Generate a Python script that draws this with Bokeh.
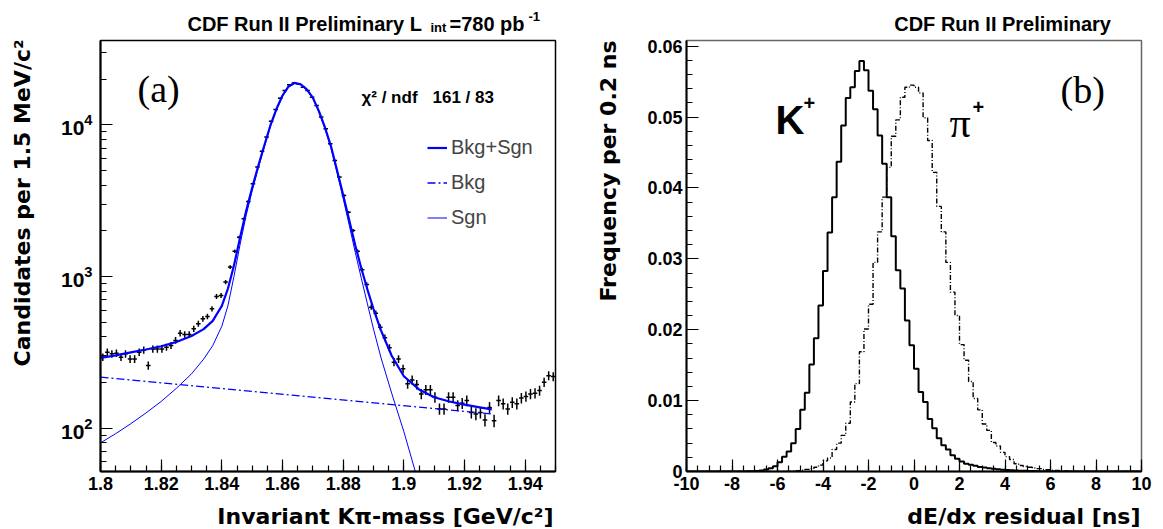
import numpy as np
from math import pi
from bokeh.plotting import figure
from bokeh.models import FixedTicker, Label, Legend, LegendItem, Range1d
from bokeh.layouts import row, column
from bokeh.embed import file_html
from bokeh.resources import INLINE

# ---------------- panel (a): invariant mass -----------------
mass_lo, mass_bin = 1.8, 0.0015
counts = [294, 317, 309, 312, 294, 309, 286, 286, 317, 328,
          259, 333, 333, 333, 342, 351, 379, 423, 415, 415,
          452, 488, 526, 545, 612, 738, 750, 918, 1153, 1469,
          1815, 2398, 3124, 4086, 5262, 6702, 8295, 10570, 12620, 14990,
          16830, 18350, 18830, 18630, 17700, 16830, 15210, 13400, 11240, 9410,
          7500, 5820, 4520, 3420, 2655, 2010, 1469, 1107, 886, 628,
          573, 463, 394, 339, 272, 286, 246, 196, 208, 194,
          168, 179, 179, 160, 134, 134, 160, 160, 141, 146,
          152, 127, 124, 127, 113, 137, 112, 152, 145, 134,
          148, 145, 158, 162, 168, 170, 177, 201, 222, 219]

fit_x = [1.800, 1.805, 1.810, 1.815, 1.820, 1.825, 1.830, 1.834, 1.837, 1.840,
         1.842, 1.844, 1.846, 1.848, 1.850, 1.852, 1.854, 1.856, 1.858, 1.860,
         1.862, 1.864, 1.866, 1.868, 1.870, 1.872, 1.874, 1.876, 1.878, 1.880,
         1.882, 1.884, 1.886, 1.888, 1.890, 1.8925, 1.896, 1.900, 1.905, 1.910,
         1.915, 1.920, 1.925, 1.929]
fit_total = [290, 302, 316, 330, 347, 370, 405, 450, 510, 640,
             830, 1180, 1800, 2700, 3850, 5350, 7300, 9900, 12700, 15600,
             17900, 18900, 18500, 17100, 15100, 12300, 9600, 7200, 5000, 3450,
             2350, 1600, 1130, 820, 610, 440, 300, 220, 180, 160,
             150, 143, 137, 133]

sgn_x = [1.800, 1.805, 1.810, 1.815, 1.820, 1.825, 1.830, 1.834, 1.837, 1.840,
         1.842, 1.844, 1.846, 1.848, 1.850, 1.852, 1.854, 1.856, 1.858, 1.860,
         1.862, 1.864, 1.866, 1.868, 1.870, 1.872, 1.874, 1.876, 1.878, 1.880,
         1.882, 1.884, 1.886, 1.888, 1.890, 1.8925, 1.896, 1.900, 1.904]
sgn_y = [80, 92, 107, 126, 150, 183, 228, 285, 350, 470,
         640, 1000, 1620, 2520, 3670, 5170, 7120, 9720, 12520, 15420,
         17720, 18720, 18320, 16920, 14920, 12120, 9420, 7020, 4820, 3280,
         2180, 1440, 970, 660, 450, 290, 170, 95, 50]

bkg_x = [1.800, 1.929]
bkg_y = [217, 124]

mass_ticks = [1.8, 1.82, 1.84, 1.86, 1.88, 1.9, 1.92, 1.94]
mass_tick_labels = ["1.8", "1.82", "1.84", "1.86", "1.88", "1.9", "1.92", "1.94"]
cand_ticks = [100, 1000, 10000]

# ---------------- panel (b): dE/dx residual -----------------
res_lo, res_bin = -10.0, 0.2
kaon = [0, 0, 0, 0, 0, 0, 0, 0, 0, 0,
        0, 0, 0.00001, 0.00002, 0.00003, 0.00008, 0.00015, 0.00028, 0.00047, 0.00075,
        0.00132, 0.00207, 0.00282, 0.0040, 0.0060, 0.0087, 0.0111, 0.0151, 0.0188, 0.0234,
        0.0283, 0.0337, 0.0387, 0.0437, 0.0488, 0.0527, 0.0542, 0.0565, 0.0579, 0.0566,
        0.0537, 0.0511, 0.0474, 0.0434, 0.0387, 0.0332, 0.0284, 0.0258, 0.0213, 0.0178,
        0.0145, 0.0112, 0.0098, 0.0074, 0.0061, 0.0047, 0.0037, 0.0031, 0.0023, 0.0018,
        0.0014, 0.0011, 0.00095, 0.0008, 0.00065, 0.00055, 0.00045, 0.00038, 0.0003, 0.00025,
        0.0002, 0.00017, 0.00014, 0.00012, 0.0001, 0.00008, 0.00006, 0.00005, 0.00003, 0.00002,
        0, 0, 0, 0, 0, 0, 0, 0, 0, 0,
        0, 0, 0, 0, 0, 0, 0, 0, 0, 0]
pion = [0, 0, 0, 0, 0, 0, 0, 0, 0, 0,
        0, 0, 0, 0, 0, 0, 0, 0, 0, 0,
        0.00002, 0.00003, 0.00005, 0.00008, 0.00012, 0.0002, 0.0003, 0.0004, 0.0006, 0.0009,
        0.0015, 0.0019, 0.0031, 0.0040, 0.0051, 0.0068, 0.0098, 0.0124, 0.0169, 0.0201,
        0.0236, 0.0295, 0.0338, 0.0387, 0.0429, 0.0473, 0.0496, 0.0528, 0.0542, 0.0545,
        0.0542, 0.0534, 0.0499, 0.0467, 0.0422, 0.0374, 0.0338, 0.0295, 0.0253, 0.0220,
        0.0179, 0.0157, 0.0127, 0.0103, 0.0087, 0.0067, 0.0058, 0.0041, 0.0036, 0.0027,
        0.0021, 0.0017, 0.0011, 0.00085, 0.0007, 0.0006, 0.0005, 0.0004, 0.0003, 0.00025,
        0.0002, 0.00015, 0.0001, 0.00006, 0.00003, 0, 0, 0, 0, 0,
        0, 0, 0, 0, 0, 0, 0, 0, 0, 0]

res_ticks = [-10, -8, -6, -4, -2, 0, 2, 4, 6, 8, 10]
freq_ticks = [0, 0.01, 0.02, 0.03, 0.04, 0.05, 0.06]
freq_tick_labels = ["0", "0.01", "0.02", "0.03", "0.04", "0.05", "0.06"]

SANS = "Liberation Sans"
WIDE = "DejaVu Sans"
SERIF = "Liberation Serif"
BLUE = "#0000ff"

TOP_H = 35            # height of the title strip (page y 0..35)
PANEL_H = 464         # panels: page y 35..499, frame 40..471


def style_axes(p):
    p.xgrid.visible = False
    p.ygrid.visible = False
    for ax in (p.xaxis[0], p.yaxis[0]):
        ax.major_tick_in = 12
        ax.major_tick_out = 0
        ax.minor_tick_in = 6
        ax.minor_tick_out = 0
        ax.axis_line_width = 2
        ax.axis_line_color = "black"
        ax.major_tick_line_color = "black"
        ax.minor_tick_line_color = "black"
        ax.major_tick_line_width = 1.2
        ax.minor_tick_line_width = 1.2
        ax.major_label_text_font = SANS
        ax.major_label_text_font_style = "bold"
        ax.major_label_text_font_size = "18px"
        ax.major_label_text_color = "black"
    p.xaxis[0].major_label_standoff = 5


def text_fig(w, h):
    f = figure(width=w, height=h, title=None, x_range=Range1d(0, 1), y_range=Range1d(0, 1),
               x_axis_location=None, y_axis_location=None, output_backend="svg",
               toolbar_location=None, min_border=0)
    f.outline_line_color = None
    f.grid.visible = False
    return f


def add_text(p, ox, obottom, X, Y, text, size, font=SANS, style="bold",
             align="left", baseline="alphabetic", angle=0.0):
    # (ox, obottom): page position of the bottom-left corner of p's frame
    p.add_layout(Label(x=X - ox, y=obottom - Y,
                       x_units="screen", y_units="screen", text=text,
                       text_font=font, text_font_size=size, text_font_style=style,
                       text_align=align, text_baseline=baseline, angle=angle,
                       text_color="black"))


# ---------------- figure (a) -----------------
p1 = figure(width=540, height=PANEL_H, title=None,
            x_range=Range1d(1.8, 1.95), y_range=Range1d(51.8, 35950),
            y_axis_type="log", output_backend="svg", toolbar_location=None,
            min_border_left=52, min_border_right=33, min_border_top=5,
            min_border_bottom=28)
p1.outline_line_color = "black"
p1.outline_line_width = 1.5
p1.outline_line_alpha = 1
style_axes(p1)
p1.xaxis.ticker = FixedTicker(ticks=mass_ticks,
                              minor_ticks=list(np.round(np.arange(1.8, 1.9501, 0.005), 4)))
p1.xaxis.major_label_overrides = dict(zip(mass_ticks, mass_tick_labels))
p1.yaxis.ticker = FixedTicker(ticks=cand_ticks,
                              minor_ticks=[m * 10 ** e for e in (1, 2, 3, 4) for m in range(2, 10)])
p1.yaxis.major_label_standoff = 8
p1.yaxis.major_label_text_font_size = "21px"

centers = mass_lo + mass_bin * (np.arange(len(counts)) + 0.5)
cnt = np.array(counts, dtype=float)
err = np.sqrt(cnt)
p1.segment(x0=centers - mass_bin / 2, x1=centers + mass_bin / 2, y0=cnt, y1=cnt,
           line_color="black", line_width=1.5)
p1.segment(x0=centers, x1=centers, y0=cnt - err, y1=cnt + err,
           line_color="black", line_width=1.5)

r_bkg = p1.line(bkg_x, bkg_y, line_color=BLUE, line_width=1.3, line_dash="8 3 2 3")
r_sgn = p1.line(sgn_x, sgn_y, line_color=BLUE, line_width=1.0)
r_tot = p1.line(fit_x, fit_total, line_color=BLUE, line_width=2.2)

legend = Legend(items=[LegendItem(label="Bkg+Sgn", renderers=[r_tot]),
                       LegendItem(label="Bkg", renderers=[r_bkg]),
                       LegendItem(label="Sgn", renderers=[r_sgn])],
                location=(327, 236), background_fill_alpha=0, border_line_alpha=0,
                label_text_font=SANS, label_text_font_size="20px",
                glyph_width=20, glyph_height=35, label_height=35, spacing=0,
                padding=0, margin=0, label_standoff=4)
p1.add_layout(legend)

F1 = (100, 471)
add_text(p1, *F1, 137, 88, "(a)", "38px", font=SERIF, style="normal")
add_text(p1, *F1, 361, 97, "χ² / ndf", "17px")
add_text(p1, *F1, 432, 97, "161 / 83", "17px")

# ---------------- figure (b) -----------------
p2 = figure(width=537, height=PANEL_H, title=None,
            x_range=Range1d(-10, 10), y_range=Range1d(0, 0.0608),
            output_backend="svg", toolbar_location=None,
            min_border_left=60, min_border_right=22, min_border_top=5,
            min_border_bottom=28)
p2.outline_line_color = "#666666"
p2.outline_line_width = 1.5
p2.outline_line_alpha = 1
style_axes(p2)
p2.xaxis.ticker = FixedTicker(ticks=res_ticks, minor_ticks=list(np.arange(-10, 10.01, 0.5)))
p2.xaxis.major_label_overrides = {t: str(t) for t in res_ticks}
p2.yaxis.ticker = FixedTicker(ticks=freq_ticks,
                              minor_ticks=list(np.round(np.arange(0, 0.0609, 0.002), 4)))
p2.yaxis.major_label_overrides = dict(zip(freq_ticks, freq_tick_labels))
p2.yaxis.major_label_standoff = 4

edges = res_lo + res_bin * np.arange(len(kaon) + 1)
p2.step(x=edges, y=kaon + [kaon[-1]], mode="after", line_color="black", line_width=2)
p2.step(x=edges, y=pion + [pion[-1]], mode="after", line_color="black",
        line_width=1.4, line_dash="5 2 1 2")

F2 = (686, 471)
add_text(p2, *F2, 1060, 89, "(b)", "38px", font=SERIF, style="normal")
add_text(p2, *F2, 775, 119, "K", "40px")
add_text(p2, *F2, 803, 102, "+", "20px")
add_text(p2, *F2, 949, 122, "π", "42px", font=SERIF, style="normal")
add_text(p2, *F2, 972, 106, "+", "20px")

# ---------------- text strips around the panels -----------------
top = text_fig(1163, TOP_H)       # page y 0..35
TOP = (0, TOP_H)
add_text(top, *TOP, 427, 23, "CDF Run II  Preliminary L", "20px", align="right")
add_text(top, *TOP, 430, 27, "int", "13px")
add_text(top, *TOP, 449, 23, "=780 pb", "20px")
add_text(top, *TOP, 528, 16, "-1", "13px")
add_text(top, *TOP, 1116, 23, "CDF Run II  Preliminary", "20px", align="right")

# the y-title strips sit in the same row as the panels, so their frames
# share the panels' frame (page y 40..471)
yt1 = text_fig(48, PANEL_H)       # page x 0..48
add_text(yt1, 0, 471, 22, 366, "Candidates per 1.5 MeV/c²", "22px", font=WIDE,
         align="left", baseline="middle", angle=pi / 2)
yt2 = text_fig(38, PANEL_H)       # page x 588..626
add_text(yt2, 588, 471, 608, 301, "Frequency per 0.2 ns", "22px", font=WIDE,
         align="left", baseline="middle", angle=pi / 2)

bottom = text_fig(1163, 30)       # page y 499..529
BOT = (0, 529)
add_text(bottom, *BOT, 553, 516, "Invariant Kπ-mass [GeV/c²]", "22px", font=WIDE,
         align="right")
add_text(bottom, *BOT, 1140, 516, "dE/dx residual [ns]", "22px", font=WIDE, align="right")

layout = column(top, row(yt1, p1, yt2, p2), bottom)
open("out.html", "w").write(file_html(layout, INLINE))
